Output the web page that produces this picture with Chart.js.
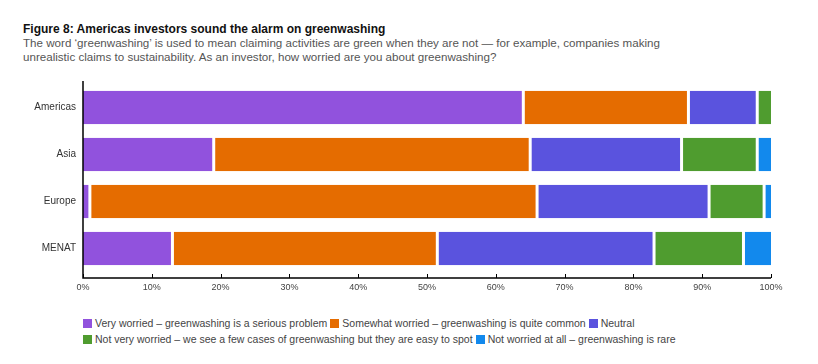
<!DOCTYPE html>
<html>
<head>
<meta charset="utf-8">
<script src="https://cdn.jsdelivr.net/npm/chart.js@4"></script>
<style>
  body { margin: 0; width: 818px; height: 364px; background: #fff; position: relative; overflow: hidden;
         font-family: "Liberation Sans", Arial, sans-serif; }
  .title { position: absolute; left: 23px; top: 22px; font-size: 12px; font-weight: bold; color: #111; }
  .sub { position: absolute; left: 23px; top: 36px; font-size: 11.6px; line-height: 14px; color: #555; }
  .chart { position: absolute; left: 0; top: 70px; width: 818px; height: 230px; }
  .legend { position: absolute; left: 83px; top: 315px; font-size: 10.5px; color: #444; line-height: 16px; }
  .legend .row { display: flex; align-items: center; white-space: nowrap; }
  .legend .item { display: flex; align-items: center; margin-right: 3px; }
  .legend .box { width: 9px; height: 9px; margin-right: 3px; display: inline-block; }
</style>
</head>
<body>
<div class="title">Figure 8: Americas investors sound the alarm on greenwashing</div>
<div class="sub">The word ‘greenwashing’ is used to mean claiming activities are green when they are not — for example, companies making<br>unrealistic claims to sustainability. As an investor, how worried are you about greenwashing?</div>
<div class="chart"><canvas id="chart" width="818" height="230"></canvas></div>
<div class="legend" id="legend"></div>
<script>
// Data (% of investors)
const categories = ['Americas', 'Asia', 'Europe', 'MENAT'];
const veryWorried = [64, 19, 1, 13];
const somewhatWorried = [24, 46, 65, 38.5];
const neutral = [10, 22, 25, 31.5];
const notVeryWorried = [2, 11, 8, 13];
const notWorried = [0, 2, 1, 4];
const xTicks = [0, 10, 20, 30, 40, 50, 60, 70, 80, 90, 100];

const seriesLabels = [
    'Very worried – greenwashing is a serious problem',
    'Somewhat worried – greenwashing is quite common',
    'Neutral',
    'Not very worried – we see a few cases of greenwashing but they are easy to spot',
    'Not worried at all – greenwashing is rare'
];
const seriesValues = [veryWorried, somewhatWorried, neutral, notVeryWorried, notWorried];
const colors = ['#9152DD', '#E56C00', '#5A53DE', '#4F9C2F', '#1289ED'];

// white gap between segments, none at the outer ends of a bar
function segmentBorder(ctx) {
    const i = ctx.datasetIndex;
    const row = ctx.dataIndex;
    let last = true;
    for (let k = i + 1; k < seriesValues.length; k++) {
        if (seriesValues[k][row] > 0) last = false;
    }
    return { left: i === 0 ? 0 : 1.5, right: last ? 0 : 1.5, top: 0, bottom: 0 };
}

const datasets = seriesValues.map(function (vals, i) {
    return {
        label: seriesLabels[i],
        data: vals,
        backgroundColor: colors[i],
        borderColor: '#ffffff',
        borderWidth: segmentBorder,
        borderSkipped: false,
        barPercentage: 0.71,
        categoryPercentage: 1
    };
});

// axis lines and upward tick marks, like the original
const axisLines = {
    id: 'axisLines',
    afterDatasetsDraw(chart) {
        const ctx = chart.ctx;
        const area = chart.chartArea;
        const x = chart.scales.x;
        const yLine = area.bottom + 6;
        ctx.save();
        ctx.strokeStyle = '#000';
        ctx.lineWidth = 1.5;
        ctx.beginPath();
        ctx.moveTo(area.left, area.top - 3);
        ctx.lineTo(area.left, yLine);
        ctx.lineTo(area.right, yLine);
        ctx.stroke();
        ctx.lineWidth = 1;
        xTicks.forEach(function (v) {
            const px = Math.round(x.getPixelForValue(v)) + 0.5;
            ctx.beginPath();
            ctx.moveTo(px, yLine);
            ctx.lineTo(px, yLine - 4);
            ctx.stroke();
        });
        ctx.restore();
    }
};

new Chart(document.getElementById('chart').getContext('2d'), {
    type: 'bar',
    data: { labels: categories, datasets: datasets },
    options: {
        indexAxis: 'y',
        responsive: false,
        animation: false,
        layout: { padding: { left: 0, right: 47, top: 14, bottom: 0 } },
        plugins: { legend: { display: false }, tooltip: { enabled: false } },
        scales: {
            x: {
                stacked: true,
                min: 0,
                max: 100,
                grid: { display: false, drawTicks: false },
                border: { display: false },
                afterBuildTicks: function (scale) {
                    scale.ticks = xTicks.map(function (v) { return { value: v }; });
                },
                afterFit: function (scale) { scale.height = 28; },
                ticks: {
                    padding: 10,
                    maxRotation: 0,
                    color: '#444',
                    font: { family: '"Liberation Sans", Arial, sans-serif', size: 9 },
                    callback: function (v) { return v + '%'; }
                }
            },
            y: {
                stacked: true,
                grid: { display: false, drawTicks: false },
                border: { display: false },
                afterFit: function (scale) { scale.width = 83; },
                ticks: {
                    padding: 7,
                    color: '#333',
                    font: { family: '"Liberation Sans", Arial, sans-serif', size: 10 }
                }
            }
        }
    },
    plugins: [axisLines]
});

// legend in two rows as in the original
const legendRows = [[0, 1, 2], [3, 4]];
const legendEl = document.getElementById('legend');
legendRows.forEach(function (row) {
    const r = document.createElement('div');
    r.className = 'row';
    row.forEach(function (i) {
        const item = document.createElement('span');
        item.className = 'item';
        const box = document.createElement('span');
        box.className = 'box';
        box.style.background = colors[i];
        item.appendChild(box);
        item.appendChild(document.createTextNode(seriesLabels[i]));
        r.appendChild(item);
    });
    legendEl.appendChild(r);
});
</script>
</body>
</html>
